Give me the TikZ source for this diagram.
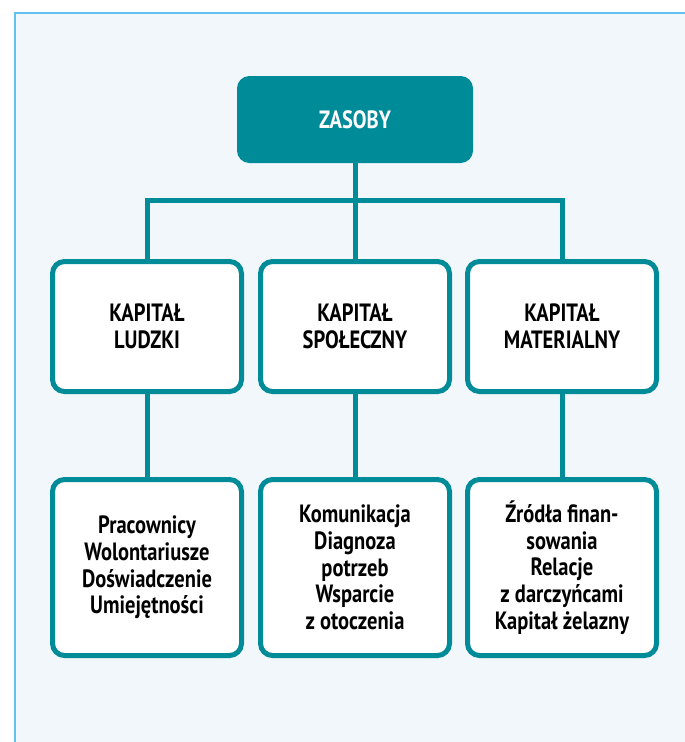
\documentclass[tikz,border=0pt]{standalone}
\usepackage{fontspec}
\setmainfont{PT Sans}[FakeStretch=0.82]
\usepackage{tikz}

\definecolor{teal}{RGB}{0,139,153}
\definecolor{panelbg}{RGB}{242,247,252}
\definecolor{panelline}{RGB}{96,194,240}

\begin{document}
\begin{tikzpicture}[
		x=1pt, y=-1pt,
		every node/.style={rectangle, rounded corners=12pt, draw=teal, line width=5pt, fill=white,
			align=center, inner sep=0pt, font=\fontsize{25}{26.7}\selectfont\bfseries},
		topbox/.style={fill=teal, text=white, minimum width=231pt, minimum height=82pt, rounded corners=10pt},
		midbox/.style={minimum width=189pt, minimum height=130pt},
		lowbox/.style={minimum width=189pt, minimum height=176pt},
		link/.style={draw=teal, line width=5pt}
	]
  \useasboundingbox (0,0) rectangle (685,742);
  \fill [panelbg] (15,13) rectangle (690,750);
  \draw [panelline, line width=2pt] (15,750) -- (15,13) -- (690,13);
  % top
  \node (zasoby) [topbox] at (355, 119.5) {ZASOBY};
  % second row
  \node (ludzki) [midbox] at (147, 326.5) {KAPITAŁ\\LUDZKI};
  \node (spoleczny) [midbox] at (355, 326.5) {KAPITAŁ\\SPOŁECZNY};
  \node (materialny) [midbox] at (562, 326.5) {KAPITAŁ\\MATERIALNY};
  % third row
  \node (ludzki_det) [lowbox] at (147, 567.5) {Pracownicy\\Wolontariusze\\Doświadczenie\\Umiejętności};
  \node (spoleczny_det) [lowbox] at (355, 567.5) {Komunikacja\\Diagnoza\\potrzeb\\Wsparcie\\z otoczenia};
  \node (materialny_det) [lowbox] at (562, 567.5) {Źródła finan-\\sowania\\Relacje\\z darczyńcami\\Kapitał żelazny};
  \coordinate (bar) at (355, 200);
  \draw [link] (zasoby.south) -- (spoleczny.north);
  \draw [link] (ludzki.north) |- (bar) -| (materialny.north);
  \draw [link] (ludzki.south) -- (ludzki_det.north);
  \draw [link] (spoleczny.south) -- (spoleczny_det.north);
  \draw [link] (materialny.south) -- (materialny_det.north);
\end{tikzpicture}
\end{document}
